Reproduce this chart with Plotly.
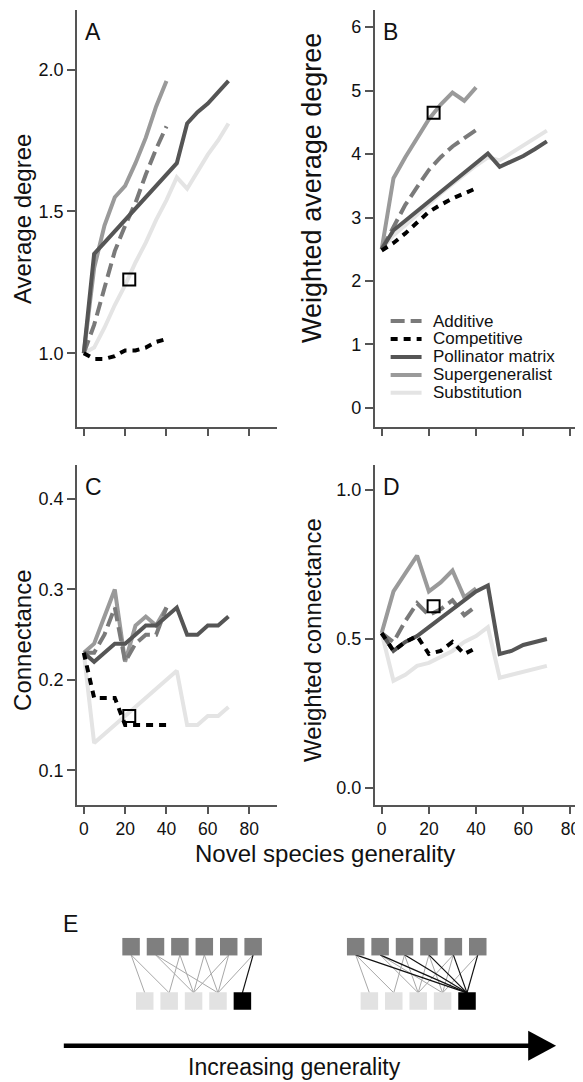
import plotly.graph_objects as go

# ---------------- data ----------------
x_short = [0, 5, 10, 15, 20, 25, 30, 35, 40]
x_long = [0, 5, 10, 15, 20, 25, 30, 35, 40, 45, 50, 55, 60, 65, 70]

series_names = ["Additive", "Competitive", "Pollinator matrix", "Supergeneralist", "Substitution"]

# Panel A: Average degree
a_additive = [1.00, 1.10, 1.23, 1.36, 1.45, 1.53, 1.63, 1.72, 1.80]
a_competitive = [1.00, 0.98, 0.98, 0.99, 1.01, 1.01, 1.02, 1.04, 1.05]
a_pollinator = [1.00, 1.35, 1.39, 1.43, 1.47, 1.51, 1.55, 1.59, 1.63, 1.67, 1.81, 1.85, 1.88, 1.92, 1.96]
a_supergen = [1.00, 1.30, 1.45, 1.55, 1.59, 1.67, 1.76, 1.87, 1.96]
a_substitution = [1.00, 1.02, 1.09, 1.17, 1.24, 1.32, 1.39, 1.47, 1.54, 1.62, 1.58, 1.64, 1.70, 1.75, 1.81]

# Panel B: Weighted average degree
b_additive = [2.50, 2.85, 3.20, 3.48, 3.75, 3.95, 4.12, 4.25, 4.38]
b_competitive = [2.48, 2.60, 2.75, 2.93, 3.09, 3.20, 3.30, 3.38, 3.46]
b_pollinator = [2.50, 2.80, 2.95, 3.10, 3.25, 3.40, 3.55, 3.70, 3.85, 4.01, 3.80, 3.88, 3.97, 4.08, 4.20]
b_supergen = [2.50, 3.62, 3.95, 4.25, 4.55, 4.78, 4.97, 4.84, 5.05]
b_substitution = [2.50, 2.72, 2.88, 3.05, 3.22, 3.38, 3.53, 3.68, 3.82, 3.95, 3.90, 4.02, 4.14, 4.25, 4.37]

# Panel C: Connectance
c_additive = [0.23, 0.23, 0.25, 0.28, 0.22, 0.24, 0.25, 0.25, 0.28]
c_competitive = [0.23, 0.18, 0.18, 0.18, 0.15, 0.15, 0.15, 0.15, 0.15]
c_pollinator = [0.23, 0.22, 0.23, 0.24, 0.24, 0.25, 0.26, 0.26, 0.27, 0.28, 0.25, 0.25, 0.26, 0.26, 0.27]
c_supergen = [0.23, 0.24, 0.27, 0.30, 0.22, 0.26, 0.27, 0.26, 0.28]
c_substitution = [0.23, 0.13, 0.14, 0.15, 0.16, 0.17, 0.18, 0.19, 0.20, 0.21, 0.15, 0.15, 0.16, 0.16, 0.17]

# Panel D: Weighted connectance
d_additive = [0.52, 0.49, 0.56, 0.62, 0.58, 0.60, 0.63, 0.58, 0.61]
d_competitive = [0.52, 0.46, 0.49, 0.51, 0.45, 0.46, 0.49, 0.45, 0.47]
d_pollinator = [0.52, 0.46, 0.49, 0.51, 0.54, 0.57, 0.60, 0.63, 0.66, 0.68, 0.45, 0.46, 0.48, 0.49, 0.50]
d_supergen = [0.52, 0.66, 0.72, 0.78, 0.66, 0.69, 0.73, 0.64, 0.67]
d_substitution = [0.52, 0.36, 0.38, 0.41, 0.42, 0.44, 0.46, 0.49, 0.51, 0.54, 0.37, 0.38, 0.39, 0.40, 0.41]

# Observed (open squares)
obs_x = [22, 22, 22, 22]
obs_y = [1.26, 4.65, 0.16, 0.61]

panel_labels = ["A", "B", "C", "D"]
y_titles = ["Average degree", "Weighted average degree", "Connectance", "Weighted connectance"]
x_title = "Novel species generality"
x_ticks = [0, 20, 40, 60, 80]
y_ticks = [[1.0, 1.5, 2.0], [0, 1, 2, 3, 4, 5, 6], [0.1, 0.2, 0.3, 0.4], [0.0, 0.5, 1.0]]

# Panel E schematic: node indices and links (top index -> bottom index)
e_top_nodes = [0, 1, 2, 3, 4, 5]
e_bottom_nodes = [0, 1, 2, 3, 4]
e_gray_links = [(0, 0), (0, 1), (1, 2), (1, 3), (2, 1), (2, 2), (3, 2), (3, 3), (4, 2), (4, 3), (5, 3)]
e_black_links_left = [(5, 4)]
e_black_links_right = [(0, 4), (1, 4), (2, 4), (3, 4), (4, 4), (5, 4)]
e_caption = "Increasing generality"

# ---------------- styling ----------------
PAGE_W, PAGE_H = 583, 1082
OFF = 8  # default page body margin
W, H = PAGE_W - OFF, PAGE_H - OFF
FONT = "Liberation Sans, Arial, Helvetica, sans-serif"
styles = {
    "Additive": dict(color="#7a7a7a", dash="14px,6px"),
    "Competitive": dict(color="#000000", dash="7px,6px"),
    "Pollinator matrix": dict(color="#555555", dash="solid"),
    "Supergeneralist": dict(color="#9a9a9a", dash="solid"),
    "Substitution": dict(color="#e4e4e4", dash="solid"),
}
LW = 4
draw_order = ["Substitution", "Supergeneralist", "Additive", "Pollinator matrix", "Competitive"]

panels = [
    {"Additive": a_additive, "Competitive": a_competitive, "Pollinator matrix": a_pollinator,
     "Supergeneralist": a_supergen, "Substitution": a_substitution},
    {"Additive": b_additive, "Competitive": b_competitive, "Pollinator matrix": b_pollinator,
     "Supergeneralist": b_supergen, "Substitution": b_substitution},
    {"Additive": c_additive, "Competitive": c_competitive, "Pollinator matrix": c_pollinator,
     "Supergeneralist": c_supergen, "Substitution": c_substitution},
    {"Additive": d_additive, "Competitive": d_competitive, "Pollinator matrix": d_pollinator,
     "Supergeneralist": d_supergen, "Substitution": d_substitution},
]


def px_x(p):
    return (p - OFF) / W


def px_y(p):
    return 1 - (p - OFF) / H


# page-pixel boxes (left, right, top, bottom)
boxes = [(77, 278, 10, 427), (376, 580, 10, 427), (77, 278, 465, 805), (376, 580, 465, 805)]
x_ranges = [[-3.4, 93.5], [-2.95, 83.2], [-3.4, 93.5], [-2.95, 83.2]]
y_ranges = [[0.74, 2.21], [-0.3, 6.27], [0.0615, 0.4377], [-0.057, 1.084]]
y_fmt = [".1f", "d", ".1f", ".1f"]

fig = go.Figure()

for i, data in enumerate(panels):
    ax = "" if i == 0 else str(i + 1)
    for name in draw_order:
        vals = data[name]
        xs = x_short if len(vals) == len(x_short) else x_long
        st = styles[name]
        fig.add_trace(go.Scatter(
            x=xs, y=vals, mode="lines", name=name, showlegend=False,
            line=dict(color=st["color"], width=LW, dash=st["dash"]),
            xaxis="x" + ax, yaxis="y" + ax, hoverinfo="skip"))
    fig.add_trace(go.Scatter(
        x=[obs_x[i]], y=[obs_y[i]], mode="markers", showlegend=False,
        marker=dict(symbol="square-open", size=12, color="black", line=dict(width=2, color="black")),
        xaxis="x" + ax, yaxis="y" + ax, hoverinfo="skip"))

layout = dict(
    width=W, height=H, margin=dict(l=0, r=0, t=0, b=0),
    plot_bgcolor="white", paper_bgcolor="white",
    font=dict(family=FONT, color="#111", size=18),
    showlegend=False,
)

annotations = []
shapes = []
for i in range(4):
    l, r, t, b = boxes[i]
    ax = "" if i == 0 else str(i + 1)
    layout["xaxis" + ax] = dict(
        domain=[px_x(l), px_x(r)], range=x_ranges[i], anchor="y" + ax,
        showline=True, linecolor="#555", linewidth=1.5, mirror=False,
        ticks="outside", ticklen=7, tickwidth=1.5, tickcolor="#555",
        tickvals=x_ticks, showticklabels=(i >= 2), showgrid=False, zeroline=False,
        tickfont=dict(size=17.5, family=FONT, color="#111"))
    layout["yaxis" + ax] = dict(
        domain=[px_y(b), px_y(t)], range=y_ranges[i], anchor="x" + ax,
        showline=True, linecolor="#555", linewidth=1.5,
        ticks="outside", ticklen=8, tickwidth=1.5, tickcolor="#555",
        tickvals=y_ticks[i], tickformat=y_fmt[i], showgrid=False, zeroline=False,
        tickfont=dict(size=18, family=FONT, color="#111"))
    # panel letters
    annotations.append(dict(
        text=panel_labels[i], xref="paper", yref="paper",
        x=px_x(l + 6), y=px_y(t + 7), xanchor="left", yanchor="top",
        showarrow=False, font=dict(size=23, family=FONT, color="#111")))

# y-axis titles
ytitle_pos = [(22, 219, 24), (313, 188, 27), (22, 640, 24), (313, 640, 24)]
for i, (xx, yy, fs) in enumerate(ytitle_pos):
    annotations.append(dict(
        text=y_titles[i], xref="paper", yref="paper", x=px_x(xx), y=px_y(yy),
        xanchor="center", yanchor="middle", textangle=-90, showarrow=False,
        font=dict(size=fs, family=FONT, color="#111")))

annotations.append(dict(
    text=x_title, xref="paper", yref="paper", x=px_x(326), y=px_y(853),
    xanchor="center", yanchor="middle", showarrow=False,
    font=dict(size=24, family=FONT, color="#111")))

# legend inside panel B (data units of panel B)
leg_x0, leg_x1, leg_tx = 3.8, 16.9, 20.7
leg_y0, leg_dy = 1.37, 0.283
for k, name in enumerate(series_names):
    yy = leg_y0 - k * leg_dy
    st = styles[name]
    shapes.append(dict(type="line", xref="x2", yref="y2", x0=leg_x0, x1=leg_x1, y0=yy, y1=yy,
                       line=dict(color=st["color"], width=LW, dash=st["dash"])))
    annotations.append(dict(
        text=name, xref="x2", yref="y2", x=leg_tx, y=yy, xanchor="left", yanchor="middle",
        showarrow=False, font=dict(size=17, family=FONT, color="#111")))

# ---------------- panel E ----------------
# E axis: unit = node spacing (24.5 px), y: top row 1, bottom row 0
unit_px = 24.5
x0_px = 131.5
row_px = 54.3
ybot_px = 1001.0
e_range_x = [(OFF - x0_px) / unit_px, (PAGE_W - x0_px) / unit_px]
e_range_y = [(ybot_px - PAGE_H) / row_px, (ybot_px - 880) / row_px]
layout["xaxis5"] = dict(domain=[0, 1], range=e_range_x, visible=False, anchor="y5")
layout["yaxis5"] = dict(domain=[0, px_y(880)], range=e_range_y, visible=False, anchor="x5")

bottom_offset = 0.56
net_offsets = [0.0, 9.2]
black_sets = [e_black_links_left, e_black_links_right]
y_top_edge, y_bot_edge = 0.85, 0.15
for n, off in enumerate(net_offsets):
    for (ti, bi) in e_gray_links:
        fig.add_trace(go.Scatter(
            x=[e_top_nodes[ti] + off, e_bottom_nodes[bi] + bottom_offset + off],
            y=[y_top_edge, y_bot_edge], mode="lines", line=dict(color="#a8a8a8", width=1),
            xaxis="x5", yaxis="y5", hoverinfo="skip", showlegend=False))
    for (ti, bi) in black_sets[n]:
        fig.add_trace(go.Scatter(
            x=[e_top_nodes[ti] + off, e_bottom_nodes[bi] + bottom_offset + off],
            y=[y_top_edge, y_bot_edge], mode="lines", line=dict(color="#111111", width=1.2),
            xaxis="x5", yaxis="y5", hoverinfo="skip", showlegend=False))
    fig.add_trace(go.Scatter(
        x=[t + off for t in e_top_nodes], y=[1] * len(e_top_nodes), mode="markers",
        marker=dict(symbol="square", size=17.5, color="#7f7f7f", line=dict(width=0)),
        xaxis="x5", yaxis="y5", hoverinfo="skip", showlegend=False))
    fig.add_trace(go.Scatter(
        x=[b + bottom_offset + off for b in e_bottom_nodes], y=[0] * len(e_bottom_nodes),
        mode="markers",
        marker=dict(symbol="square", size=17.5,
                    color=["#e2e2e2"] * (len(e_bottom_nodes) - 1) + ["#000000"], line=dict(width=0)),
        xaxis="x5", yaxis="y5", hoverinfo="skip", showlegend=False))

# arrow
arr_y = (ybot_px - 1045.7) / row_px
arr_x0 = (64 - x0_px) / unit_px
arr_base = (530 - x0_px) / unit_px
arr_tip = (558 - x0_px) / unit_px
arr_half = 15 / row_px
shapes.append(dict(type="line", xref="x5", yref="y5", x0=arr_x0, x1=arr_base + 0.2, y0=arr_y, y1=arr_y,
                   line=dict(color="black", width=4.5)))
shapes.append(dict(type="path", xref="x5", yref="y5",
                   path=f"M {arr_base},{arr_y - arr_half} L {arr_tip},{arr_y} L {arr_base},{arr_y + arr_half} Z",
                   fillcolor="black", line=dict(color="black", width=0)))

annotations.append(dict(
    text="E", xref="paper", yref="paper", x=px_x(61), y=px_y(924), xanchor="left", yanchor="middle",
    showarrow=False, font=dict(size=23, family=FONT, color="#111")))
annotations.append(dict(
    text=e_caption, xref="paper", yref="paper", x=px_x(296), y=px_y(1067), xanchor="center",
    yanchor="middle", showarrow=False, font=dict(size=23, family=FONT, color="#111")))

layout["annotations"] = annotations
layout["shapes"] = shapes
fig.update_layout(**layout)
fig.write_html("out.html")
